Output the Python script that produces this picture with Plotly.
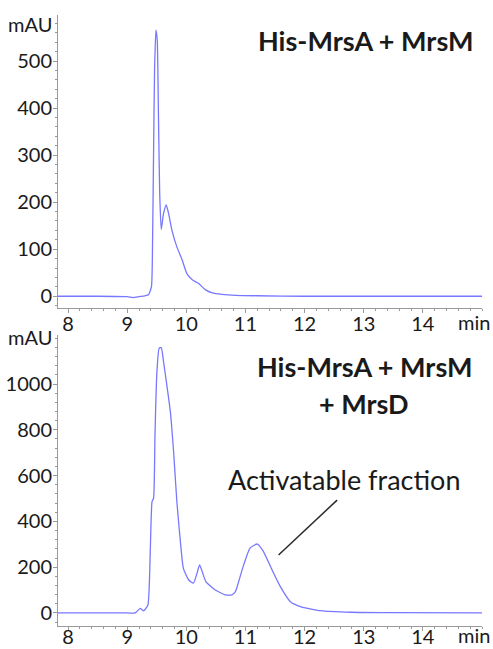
import plotly.graph_objects as go

# Top chromatogram: His-MrsA + MrsM
top_time = [7.83, 8.5, 9.0, 9.1, 9.2, 9.3, 9.36, 9.41, 9.43, 9.446, 9.463, 9.486, 9.508,
            9.53, 9.55, 9.576, 9.615, 9.66, 9.70, 9.757, 9.84, 9.93, 10.01, 10.10, 10.21,
            10.32, 10.44, 10.6, 10.83, 11.2, 12.0, 13.0, 14.0, 15.0]
top_mau = [0, 0, -1, -3, -1, 1, 3, 20, 126, 304, 481, 566, 545,
           374, 218, 142, 176, 194, 176, 140, 105, 77, 48, 35, 27,
           14, 7, 4, 2, 1, 0, 0, 0, 0]

# Bottom chromatogram: His-MrsA + MrsM + MrsD
bot_time = [7.83, 8.5, 9.0, 9.136, 9.22, 9.28, 9.35, 9.39, 9.42, 9.446, 9.47, 9.50, 9.54,
            9.576, 9.615, 9.67, 9.73, 9.785, 9.84, 9.90, 9.95, 10.04, 10.12, 10.18, 10.225,
            10.27, 10.33, 10.49, 10.66, 10.77, 10.83, 10.86, 10.97, 11.08, 11.20, 11.30,
            11.45, 11.59, 11.76, 11.93, 12.27, 12.78, 13.5, 15.0]
bot_mau = [0, 0, 0, 0, 20, 9, 35, 268, 486, 501, 777, 1039, 1156,
           1159, 1097, 996, 879, 704, 486, 311, 195, 144, 130, 173, 210,
           180, 137, 100, 79, 79, 93, 115, 210, 284, 301, 270,
           188, 115, 49, 28, 10, 3, 1, 0]

x_ticks = [8, 9, 10, 11, 12, 13, 14]
top_y_ticks = [0, 100, 200, 300, 400, 500]
bot_y_ticks = [0, 200, 400, 600, 800, 1000]

top_title = "His-MrsA + MrsM"
bot_title_1 = "His-MrsA + MrsM"
bot_title_2 = "+ MrsD"
peak_label = "Activatable fraction"

LINE = "#7878ff"
AX = "#9a9a9a"
TXT = "#1a1a1a"
FONT = "Lato"
TICK_SIZE = 20

fig = go.Figure()
fig.add_trace(go.Scatter(x=top_time, y=top_mau, mode="lines", xaxis="x", yaxis="y",
                         line=dict(color=LINE, width=1.3, shape="spline", smoothing=0.5),
                         hoverinfo="skip", showlegend=False))
fig.add_trace(go.Scatter(x=bot_time, y=bot_mau, mode="lines", xaxis="x2", yaxis="y2",
                         line=dict(color=LINE, width=1.3, shape="spline", smoothing=0.5),
                         hoverinfo="skip", showlegend=False))

W, H = 493, 649
ml, mr, mt, mb = 58, 11, 15, 23
pw = W - ml - mr
ph = H - mt - mb


def py(px):
    return (H - mb - px) / ph


def pxx(px):
    return (px - ml) / pw


common_x = dict(range=[7.83, 15.0], showline=True, linecolor=AX, linewidth=1, automargin=False,
                ticks="outside", ticklen=4, tickcolor=AX, tickvals=x_ticks,
                ticktext=[str(t) for t in x_ticks], showgrid=False, zeroline=False,
                tickfont=dict(family=FONT, size=TICK_SIZE, color=TXT),
                minor=dict(dtick=0.2, ticks="outside", ticklen=2, tickcolor=AX, showgrid=False))
common_y = dict(showline=True, linecolor=AX, linewidth=1, ticks="outside", ticklen=4,
                tickcolor=AX, showgrid=False, zeroline=False, automargin=False,
                ticklabelstandoff=-3,
                tickfont=dict(family=FONT, size=TICK_SIZE, color=TXT))

fig.update_layout(
    template="none",
    width=W, height=H, margin=dict(l=ml, r=mr, t=mt, b=mb, autoexpand=False),
    paper_bgcolor="white", plot_bgcolor="white",
    xaxis=dict(common_x, anchor="y", domain=[0, 1], ticklabelstandoff=-6),
    yaxis=dict(common_y, anchor="x", domain=[py(308), 1], range=[-25, 598],
               tickvals=top_y_ticks,
               minor=dict(dtick=20, ticks="outside", ticklen=2, tickcolor=AX, showgrid=False)),
    xaxis2=dict(common_x, anchor="y2", domain=[0, 1], ticklabelstandoff=-11),
    yaxis2=dict(common_y, anchor="x2", domain=[0, py(335)], range=[-57, 1214],
                tickvals=bot_y_ticks,
                minor=dict(dtick=40, ticks="outside", ticklen=2, tickcolor=AX, showgrid=False)),
    showlegend=False,
)

ann = []
# unit labels
for yy in (24, 337):
    ann.append(dict(text="mAU", xref="paper", yref="paper", x=pxx(54), y=py(yy),
                    xanchor="right", yanchor="middle", showarrow=False,
                    font=dict(family=FONT, size=TICK_SIZE, color=TXT)))
for yy in (322, 635):
    ann.append(dict(text="min", xref="paper", yref="paper", x=pxx(474), y=py(yy),
                    xanchor="center", yanchor="middle", showarrow=False,
                    font=dict(family=FONT, size=TICK_SIZE, color=TXT)))
# titles
ann.append(dict(text="<b>" + top_title + "</b>", xref="paper", yref="paper", x=pxx(365), y=py(41),
                xanchor="center", yanchor="middle", showarrow=False,
                font=dict(family=FONT, size=27, color=TXT)))
ann.append(dict(text="<b>" + bot_title_1 + "</b>", xref="paper", yref="paper", x=pxx(364), y=py(366),
                xanchor="center", yanchor="middle", showarrow=False,
                font=dict(family=FONT, size=27, color=TXT)))
ann.append(dict(text="<b>" + bot_title_2 + "</b>", xref="paper", yref="paper", x=pxx(364), y=py(403),
                xanchor="center", yanchor="middle", showarrow=False,
                font=dict(family=FONT, size=27, color=TXT)))
ann.append(dict(text=peak_label, xref="paper", yref="paper", x=pxx(344), y=py(479),
                xanchor="center", yanchor="middle", showarrow=False,
                font=dict(family=FONT, size=27, color=TXT)))
fig.update_layout(annotations=ann)

fig.add_shape(type="line", xref="x2", yref="y2", x0=12.55, y0=493, x1=11.56, y1=253,
              line=dict(color="#2a2a2a", width=1.5))

fig.write_html("out.html", config={"displayModeBar": False},
               post_script="document.body.style.margin='0';document.body.style.overflow='hidden';")
